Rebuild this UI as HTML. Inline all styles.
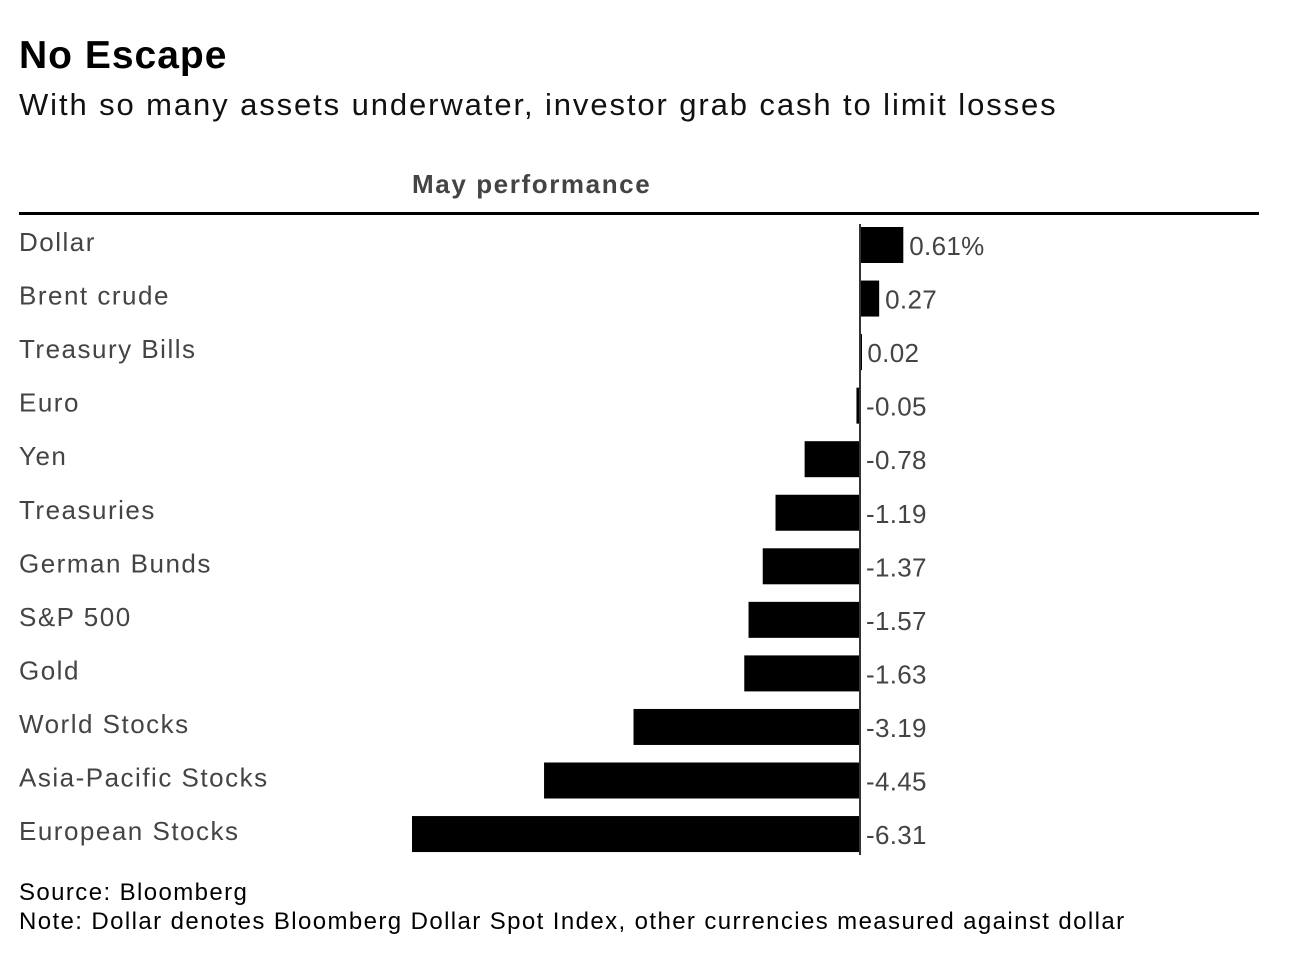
<!DOCTYPE html>
<html><head><meta charset="utf-8"><style>
body{margin:0;background:#fff;font-family:"Liberation Sans",Arial,sans-serif;}
#wrap{position:relative;width:1298px;height:970px;overflow:hidden;}
.t{position:absolute;white-space:nowrap;}
</style></head><body>
<div id="wrap">
<div class="t" style="left:19px;top:34px;font-size:39px;font-weight:bold;color:#000;letter-spacing:1px;">No Escape</div>
<div class="t" style="left:19px;top:87px;font-size:31px;color:#111;letter-spacing:1.9px;">With so many assets underwater, investor grab cash to limit losses</div>
<div class="t" style="left:412px;top:169px;font-size:26px;font-weight:bold;color:#444;letter-spacing:1.6px;">May performance</div>
<div style="position:absolute;left:19px;top:212px;width:1240px;height:3px;background:#000;"></div>
<svg id="svg" width="1298" height="970" style="position:absolute;left:0;top:0"></svg>
<div class="t" style="left:19px;top:879px;font-size:24px;color:#000;letter-spacing:1.4px;">Source: Bloomberg</div>
<div class="t" style="left:19px;top:908px;font-size:24px;color:#000;letter-spacing:1.4px;">Note: Dollar denotes Bloomberg Dollar Spot Index, other currencies measured against dollar</div>
</div>
<script>
const categories=["Dollar","Brent crude","Treasury Bills","Euro","Yen","Treasuries","German Bunds","S&P 500","Gold","World Stocks","Asia-Pacific Stocks","European Stocks"];
const values=[0.61,0.27,0.02,-0.05,-0.78,-1.19,-1.37,-1.57,-1.63,-3.19,-4.45,-6.31];
const valueLabels=["0.61%","0.27","0.02","-0.05","-0.78","-1.19","-1.37","-1.57","-1.63","-3.19","-4.45","-6.31"];
const NS="http://www.w3.org/2000/svg";
const svg=document.getElementById('svg');
const x0=860, scale=448/6.31;
const xs=v=>x0+v*scale;
const yc=i=>245+i*53.55;
function mk(tag,attrs){const e=document.createElementNS(NS,tag);for(const k in attrs)e.setAttribute(k,attrs[k]);svg.appendChild(e);return e;}
categories.forEach((c,i)=>{
  const v=values[i];
  const a=xs(Math.min(v,0)),b=xs(Math.max(v,0));
  const r=mk('rect',{x:a,y:yc(i)-18,width:Math.max(b-a,2),height:36,fill:'#000'});
  
  
  const l=mk('text',{x:19,y:yc(i)+6,'font-size':26,fill:'#444','font-family':'Liberation Sans, Arial, sans-serif','letter-spacing':'1.5'});
  l.textContent=c;
  
  
  const vx=(v>0?b:x0)+6;
  const t=mk('text',{x:vx,y:yc(i)+10,'font-size':26,fill:'#444','font-family':'Liberation Sans, Arial, sans-serif','letter-spacing':'0.3'});
  t.textContent=valueLabels[i];
  
  
});
const z=mk('line',{x1:x0,x2:x0,y1:224,y2:855,stroke:'#333','stroke-width':2});


</script>
</body></html>
